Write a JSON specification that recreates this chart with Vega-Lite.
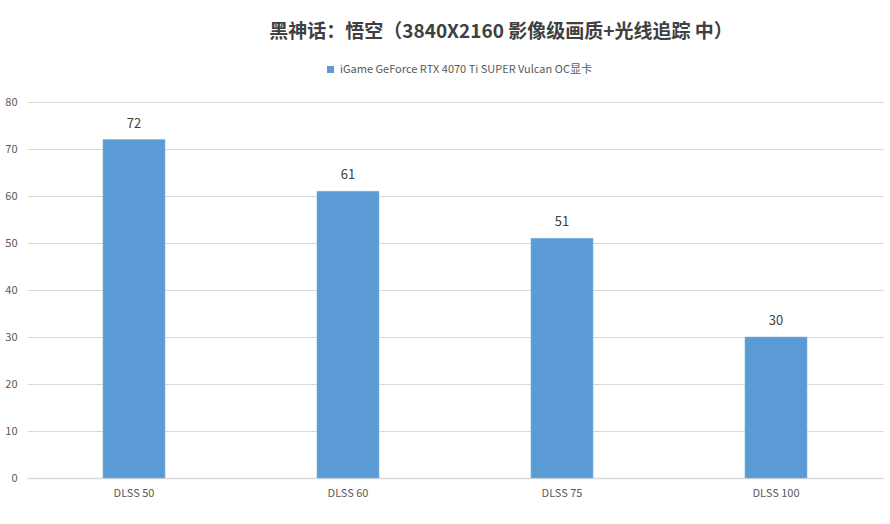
{
  "$schema": "https://vega.github.io/schema/vega-lite/v6.json",
  "width": 856,
  "height": 376,
  "autosize": {"type": "none"},
  "padding": {"left": 27, "top": 102, "right": 7, "bottom": 46},
  "background": "white",
  "title": {
    "text": "黑神话：悟空（3840X2160 影像级画质+光线追踪 中）",
    "font": "Noto Sans CJK SC",
    "fontSize": 19,
    "fontWeight": "bold",
    "color": "#404040",
    "anchor": "middle",
    "dx": 46,
    "offset": 22
  },
  "data": {
    "values": [
      {"setting": "DLSS 50", "fps": 72, "card": "iGame GeForce RTX 4070 Ti SUPER Vulcan OC显卡"},
      {"setting": "DLSS 60", "fps": 61, "card": "iGame GeForce RTX 4070 Ti SUPER Vulcan OC显卡"},
      {"setting": "DLSS 75", "fps": 51, "card": "iGame GeForce RTX 4070 Ti SUPER Vulcan OC显卡"},
      {"setting": "DLSS 100", "fps": 30, "card": "iGame GeForce RTX 4070 Ti SUPER Vulcan OC显卡"}
    ]
  },
  "encoding": {
    "x": {
      "field": "setting",
      "type": "nominal",
      "sort": null,
      "title": null,
      "scale": {"paddingInner": 0.71, "paddingOuter": 0.355},
      "axis": {
        "labelAngle": 0,
        "labelFont": "Noto Sans CJK SC",
        "labelFontSize": 11,
        "labelColor": "#595959",
        "labelPadding": 9,
        "ticks": false,
        "domainColor": "#d9d9d9",
        "domainWidth": 1.5
      }
    },
    "y": {
      "field": "fps",
      "type": "quantitative",
      "title": null,
      "scale": {"domain": [0, 80]},
      "axis": {
        "values": [0, 10, 20, 30, 40, 50, 60, 70, 80],
        "labelFont": "Noto Sans CJK SC",
        "labelFontSize": 11,
        "labelColor": "#595959",
        "labelPadding": 10,
        "ticks": false,
        "domain": false,
        "gridColor": "#d9d9d9",
        "gridWidth": 1
      }
    }
  },
  "layer": [
    {
      "mark": {"type": "bar", "stroke": "#7fb2e0", "strokeWidth": 0.5},
      "encoding": {
        "color": {
          "field": "card",
          "type": "nominal",
          "scale": {"range": ["#5b9bd5"]},
          "legend": {
            "title": null,
            "orient": "none",
            "legendX": 298,
            "legendY": -38,
            "direction": "horizontal",
            "symbolType": "square",
            "symbolSize": 50,
            "symbolStrokeWidth": 0,
            "labelFont": "Noto Sans CJK SC",
            "labelFontSize": 11,
            "labelColor": "#595959",
            "labelLimit": 0
          }
        }
      }
    },
    {
      "mark": {
        "type": "text",
        "baseline": "bottom",
        "dy": -9,
        "font": "Noto Sans CJK SC",
        "fontSize": 13,
        "color": "#404040"
      },
      "encoding": {"text": {"field": "fps", "type": "quantitative"}}
    }
  ],
  "config": {"view": {"stroke": null}}
}
